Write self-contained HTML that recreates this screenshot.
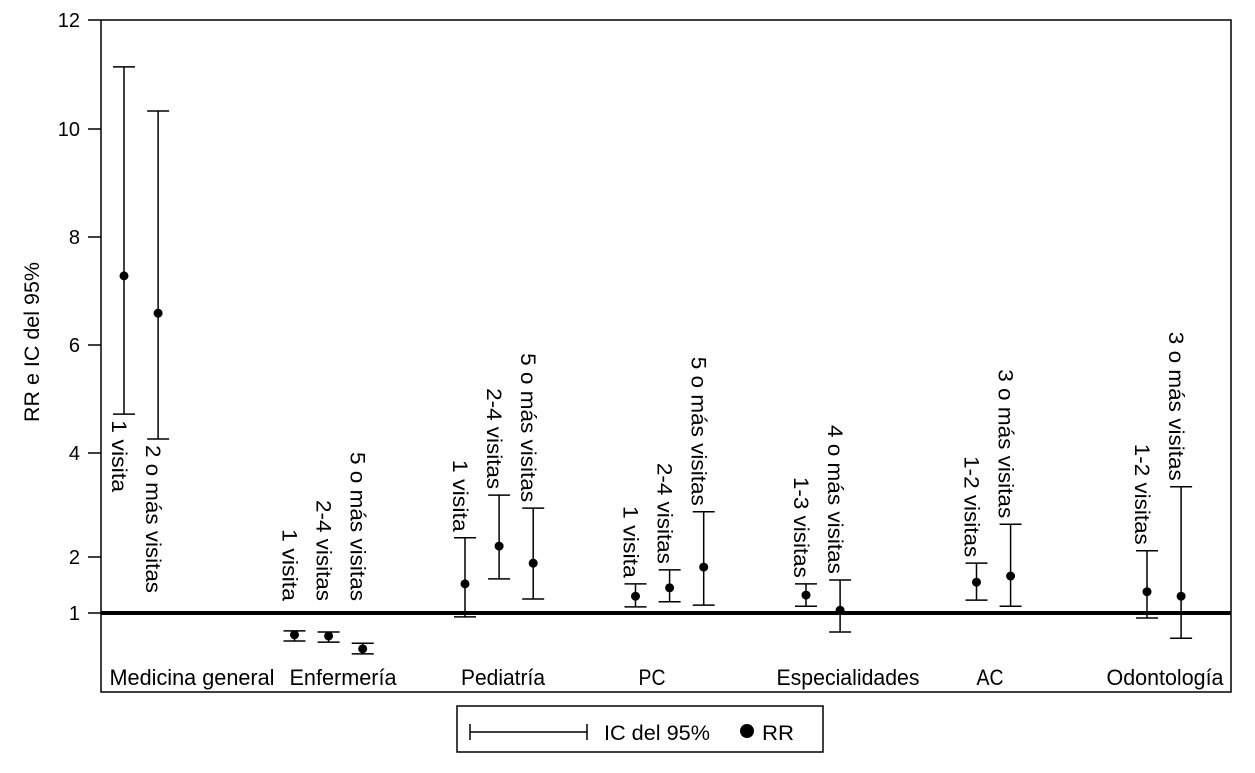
<!DOCTYPE html>
<html><head><meta charset="utf-8"><style>
html,body{margin:0;padding:0;background:#fff;}
svg{display:block;font-family:"Liberation Sans",sans-serif;}
</style></head><body>
<svg id="chart" width="1255" height="773" viewBox="0 0 1255 773" xmlns="http://www.w3.org/2000/svg">
  <rect x="101" y="20" width="1130" height="672" fill="none" stroke="#000" stroke-width="1.5"/>
  <text transform="translate(39,342) rotate(-90)" text-anchor="middle" font-size="21" textLength="160" lengthAdjust="spacingAndGlyphs">RR e IC del 95%</text>
  <g id="yaxis"></g>
  <g id="marks"></g>
  <g id="cats"></g>
  <g>
    <rect x="457" y="706" width="366" height="46" fill="none" stroke="#000" stroke-width="1.5"/>
    <g>
      <line x1="470" y1="732" x2="587" y2="732" stroke="#000" stroke-width="1.5"/>
      <line x1="470" y1="724" x2="470" y2="740" stroke="#000" stroke-width="1.5"/>
      <line x1="587" y1="724" x2="587" y2="740" stroke="#000" stroke-width="1.5"/>
      <text x="604" y="740" font-size="21" textLength="106" lengthAdjust="spacingAndGlyphs">IC del 95%</text>
    </g>
    <g>
      <circle cx="747" cy="731" r="7" fill="#000"/>
      <text x="762" y="740" font-size="21" textLength="32" lengthAdjust="spacingAndGlyphs">RR</text>
    </g>
  </g>
</svg>
<script>
const categories = ["Medicina general","Enfermería","Pediatría","PC","Especialidades","AC","Odontología"];
const itemLabels = ["1 visita","2 o más visitas","1 visita","2-4 visitas","5 o más visitas","1 visita","2-4 visitas","5 o más visitas","1 visita","2-4 visitas","5 o más visitas","1-3 visitas","4 o más visitas","1-2 visitas","3 o más visitas","1-2 visitas","3 o más visitas"];
const itemCategory = [0,0,1,1,1,2,2,2,3,3,3,4,4,5,5,6,6];
const itemSlot = [0,1,5,6,7,10,11,12,15,16,17,20,21,25,26,30,31];
const rrValues = [7.28,6.59,0.61,0.59,0.36,1.52,2.21,1.89,1.30,1.45,1.82,1.32,1.05,1.55,1.66,1.38,1.30];
const ciLow = [4.72,4.26,0.50,0.48,0.27,0.93,1.61,1.25,1.11,1.20,1.14,1.12,0.66,1.23,1.12,0.91,0.55];
const ciHigh = [11.14,10.33,0.68,0.66,0.46,2.37,3.19,2.94,1.52,1.77,2.87,1.52,1.59,1.89,2.63,2.12,3.35];
const yTicks = [1,2,4,6,8,10,12];
const refValue = 1;

const NS="http://www.w3.org/2000/svg";
const tickPx=[613,557,453,345,237,129,20];
function yScale(v){
  if(v<=yTicks[0]) return tickPx[0]+(yTicks[0]-v)*56;
  for(let i=0;i<yTicks.length-1;i++){
    if(v<=yTicks[i+1]){const t=(v-yTicks[i])/(yTicks[i+1]-yTicks[i]);return tickPx[i]+t*(tickPx[i+1]-tickPx[i]);}
  }
  return tickPx[tickPx.length-1]-(v-yTicks[yTicks.length-1])*54.5;
}
function xScale(s){return 124+s*34.1;}
function mk(tag,attrs,parent){const e=document.createElementNS(NS,tag);for(const k in attrs)e.setAttribute(k,attrs[k]);parent.appendChild(e);return e;}

const yaxis=document.getElementById('yaxis');
yTicks.forEach(t=>{
  const y=yScale(t);
  const l=mk('line',{x1:88,x2:101,y1:y,y2:y,stroke:'#000','stroke-width':1.5},yaxis);
  
  
  const tx=mk('text',{x:80,y:y+7,'text-anchor':'end','font-size':20},yaxis);
  tx.textContent=String(t);
  
  
});

const marks=document.getElementById('marks');
const ry=yScale(refValue);
const ref=mk('line',{x1:101,x2:1231,y1:ry,y2:ry,stroke:'#000','stroke-width':4},marks);



const lens={"1 visita":72,"2-4 visitas":101,"5 o más visitas":149,"2 o más visitas":148,"1-3 visitas":101,"4 o más visitas":149,"1-2 visitas":101,"3 o más visitas":149};
rrValues.forEach((rr,i)=>{
  const x=xScale(itemSlot[i]);
  const yl=yScale(ciLow[i]), yh=yScale(ciHigh[i]), yr=yScale(rr);
  const g=mk('g',{},marks);
  
  
  mk('line',{x1:x,x2:x,y1:yh,y2:yl,stroke:'#000','stroke-width':1.5},g);
  mk('line',{x1:x-11,x2:x+11,y1:yh,y2:yh,stroke:'#000','stroke-width':1.5},g);
  mk('line',{x1:x-11,x2:x+11,y1:yl,y2:yl,stroke:'#000','stroke-width':1.5},g);
  const c=mk('circle',{cx:x,cy:yr,r:4.5,fill:'#000'},g);
  
  
  const lab=itemLabels[i];
  const L=lens[lab]||100;
  let start;
  if(itemCategory[i]===0) start=yl+6;
  else if(itemCategory[i]===1) start=601-L;
  else start=yh-6-L;
  const t=mk('text',{transform:`translate(${x-12},${start}) rotate(90)`,'font-size':21,textLength:L,lengthAdjust:'spacingAndGlyphs'},g);
  t.textContent=lab;
  
  
});

const cats=document.getElementById('cats');
const catCenters=[192,343,503,652,848,990,1165];
const catW=[165,107,84,27,143,27,117];
categories.forEach((c,i)=>{
  const t=mk('text',{x:catCenters[i],y:685,'text-anchor':'middle','font-size':22,textLength:catW[i],lengthAdjust:'spacingAndGlyphs'},cats);
  t.textContent=c;
  
  
});
</script>
</body></html>
